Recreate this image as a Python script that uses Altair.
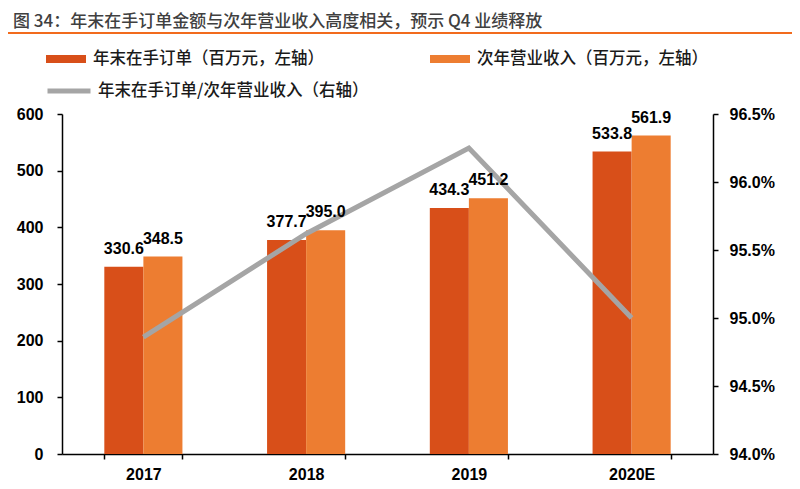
import altair as alt
import pandas as pd

years = ["2017", "2018", "2019", "2020E"]
backlog = [330.6, 377.7, 434.3, 533.8]
revenue = [348.5, 395.0, 451.2, 561.9]
ratio = [0.9486, 0.9562, 0.9625, 0.9500]

s1 = "年末在手订单（百万元，左轴）"
s2 = "次年营业收入（百万元，左轴）"
s3 = "年末在手订单/次年营业收入（右轴）"
title_text = "图 34：年末在手订单金额与次年营业收入高度相关，预示 Q4 业绩释放"

left_ticks = [0, 100, 200, 300, 400, 500, 600]
right_ticks = [0.94, 0.945, 0.95, 0.955, 0.96, 0.965]

DARK = "#D84F19"
LIGHT = "#ED7D31"
GRAY = "#A5A5A5"
CJK = "Noto Sans CJK SC"
NUM = "Liberation Sans"

long_df = pd.DataFrame({
    "year": years * 2,
    "series": [s1] * len(years) + [s2] * len(years),
    "value": backlog + revenue,
})
line_df = pd.DataFrame({"year": years, "ratio": ratio, "lab_c": [s3] * len(years)})

x_enc = alt.X("year:N", sort=years, title=None,
              scale=alt.Scale(paddingInner=0.52, paddingOuter=0.26),
              axis=alt.Axis(tickBand="extent", labelAngle=0, labelPadding=7, tickSize=5))
xoff = alt.XOffset("series:N", sort=[s1, s2],
                   scale=alt.Scale(domain=[s1, s2], paddingInner=0, paddingOuter=0))
left_scale = alt.Scale(domain=[0, 600], nice=False, zero=True)


def y_left(with_axis):
    if with_axis:
        return alt.Y("value:Q", title=None, scale=left_scale,
                     axis=alt.Axis(values=left_ticks, orient="left", labelPadding=14, tickSize=5))
    return alt.Y("value:Q", title=None, scale=left_scale, axis=None)


bar_legend_common = dict(
    orient="none", symbolType="M-1,-0.2H1V0.2H-1Z", symbolSize=1600, symbolStrokeWidth=0,
    labelOffset=7, labelFont=CJK, labelFontSize=16.5, labelFontWeight=500,
    labelColor="#1a1a1a", padding=0, labelLimit=500,
)

base = alt.Chart(long_df)

bars_a = base.transform_filter(alt.datum.series == s1).transform_calculate(
    lab_a="datum.series"
).mark_bar().encode(
    x=x_enc, xOffset=xoff, y=y_left(True),
    color=alt.Color("lab_a:N", title=None,
                    scale=alt.Scale(domain=[s1], range=[DARK]),
                    legend=alt.Legend(legendX=-16, legendY=-75, **bar_legend_common)),
)

bars_b = base.transform_filter(alt.datum.series == s2).transform_calculate(
    lab_b="datum.series"
).mark_bar().encode(
    x=x_enc, xOffset=xoff, y=y_left(False),
    fill=alt.Fill("lab_b:N", title=None,
                  scale=alt.Scale(domain=[s2], range=[LIGHT]),
                  legend=alt.Legend(legendX=368, legendY=-75, **bar_legend_common)),
)

labels = base.mark_text(
    dy=-13, baseline="alphabetic", font=NUM, fontSize=16, fontWeight="bold", color="#000000"
).encode(
    x=x_enc, xOffset=xoff, y=y_left(False),
    text=alt.Text("value:Q", format=".1f"),
)

line = alt.Chart(line_df).mark_line(strokeWidth=5).encode(
    x=x_enc,
    y=alt.Y("ratio:Q", title=None,
            scale=alt.Scale(domain=[0.94, 0.965], nice=False, zero=False),
            axis=alt.Axis(values=right_ticks, orient="right", format=".1%",
                          labelPadding=11, tickSize=5)),
    stroke=alt.Stroke("lab_c:N", title=None,
                      scale=alt.Scale(domain=[s3], range=[GRAY]),
                      legend=alt.Legend(orient="none", legendX=-17, legendY=-47,
                                        symbolType="stroke", symbolSize=1849,
                                        symbolStrokeWidth=5, labelOffset=5,
                                        labelFont=CJK, labelFontSize=16.5, labelFontWeight=500,
                                        labelColor="#1a1a1a", padding=0, labelLimit=500)),
)

rule = alt.Chart(pd.DataFrame({"k": [0]})).mark_rule(color="#F26B1D", strokeWidth=2).encode(
    x=alt.value(-62), x2=alt.value(740), y=alt.value(-81)
)

chart = alt.layer(
    bars_a, bars_b, line, labels, rule
).resolve_scale(y="independent").properties(
    width=651, height=340,
    padding={"left": 54, "top": 106, "right": 79, "bottom": 27},
    autosize=alt.AutoSizeParams(type="none"),
    background="#ffffff",
    title=alt.TitleParams(title_text, anchor="start", frame="group", dx=-49, offset=1,
                          font=CJK, fontSize=17, fontWeight=500, color="#404040"),
).configure_view(strokeWidth=0).configure_axis(
    grid=False, labelFont=NUM, labelFontSize=16, labelFontWeight="bold", labelColor="#000000",
    domainColor="#000000", tickColor="#000000", domainWidth=1.5, tickWidth=1.5,
)

chart.save("out.html", embed_options={"renderer": "svg", "actions": False})
